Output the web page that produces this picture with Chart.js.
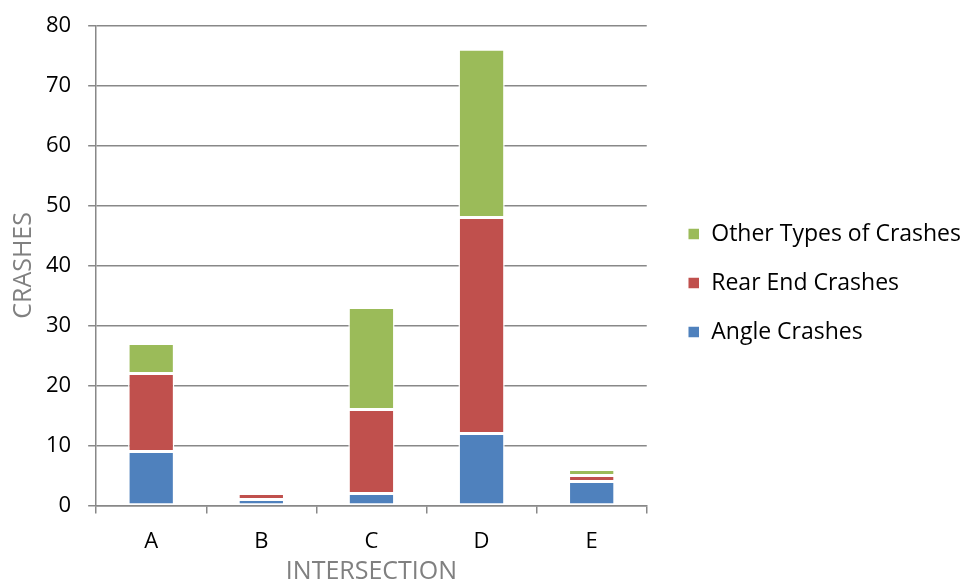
<!DOCTYPE html>
<html>
<head>
<meta charset="utf-8">
<script src="https://cdn.jsdelivr.net/npm/chart.js@4"></script>
<style>
    html, body { margin: 0; padding: 0; background: #fff; }
    #wrap { width: 964px; height: 587px; }
</style>
</head>
<body>
<div id="wrap"><canvas id="chartCrashes"></canvas></div>
<script>
// Data
const intersections = ["A", "B", "C", "D", "E"];
const angleCrashes = [9, 1, 2, 12, 4];
const rearEndCrashes = [13, 1, 14, 36, 1];
const otherCrashes = [5, 0, 17, 28, 1];
const yTicks = [0, 10, 20, 30, 40, 50, 60, 70, 80];

const gridGray = "#888888";
const fontFamily = "'Open Sans', sans-serif";

const chartCrashes = document.getElementById("chartCrashes");

// Common bar style
const barStyle = {
    borderColor: "#ffffff",
    borderWidth: 1.5,
    borderSkipped: false,
    barPercentage: 0.42,
    categoryPercentage: 1
};

// Nudge the legend block to where the reference has it
const legendShift = {
    id: "legendShift",
    afterLayout(chart) {
        const lg = chart.legend;
        lg.left += 15;
        lg.right += 15;
        lg.top -= 16;
        lg.bottom -= 16;
    }
};

new Chart(chartCrashes, {
    type: "bar",
    data: {
        labels: intersections,
        datasets: [
            Object.assign({ label: "Angle Crashes", data: angleCrashes, backgroundColor: "#4F81BD" }, barStyle),
            Object.assign({ label: "Rear End Crashes", data: rearEndCrashes, backgroundColor: "#C0504D" }, barStyle),
            Object.assign({ label: "Other Types of Crashes", data: otherCrashes, backgroundColor: "#9BBB59" }, barStyle)
        ]
    },
    plugins: [legendShift],
    options: {
        responsive: true,
        maintainAspectRatio: false,
        animation: false,
        layout: {
            padding: { top: 11, left: 9, right: 8, bottom: 0 }
        },
        plugins: {
            tooltip: { enabled: false },
            legend: {
                position: "right",
                reverse: true,
                maxWidth: 340,
                labels: {
                    boxWidth: 12,
                    boxHeight: 12,
                    padding: 26,
                    color: "#000",
                    font: { family: fontFamily, size: 23 }
                }
            }
        },
        scales: {
            x: {
                stacked: true,
                border: { color: gridGray, width: 1.5 },
                grid: {
                    display: true,
                    drawOnChartArea: false,
                    color: gridGray,
                    lineWidth: 1.5,
                    tickLength: 8
                },
                ticks: {
                    color: "#000",
                    padding: 15,
                    font: { family: fontFamily, size: 22 }
                },
                title: {
                    display: true,
                    text: "INTERSECTION",
                    color: "#808080",
                    padding: { top: -13, bottom: 0 },
                    font: { family: fontFamily, size: 25 }
                }
            },
            y: {
                stacked: true,
                min: 0,
                max: 80,
                afterBuildTicks: axis => {
                    axis.ticks = yTicks.map(v => ({ value: v }));
                },
                border: { color: gridGray, width: 1.5 },
                grid: {
                    color: gridGray,
                    lineWidth: 1.5,
                    tickLength: 8
                },
                ticks: {
                    color: "#000",
                    padding: 17,
                    font: { family: fontFamily, size: 22, lineHeight: 0.75 }
                },
                title: {
                    display: true,
                    text: "CRASHES",
                    color: "#808080",
                    padding: { top: 0, bottom: -10 },
                    font: { family: fontFamily, size: 25 }
                }
            }
        }
    }
});
</script>
</body>
</html>
